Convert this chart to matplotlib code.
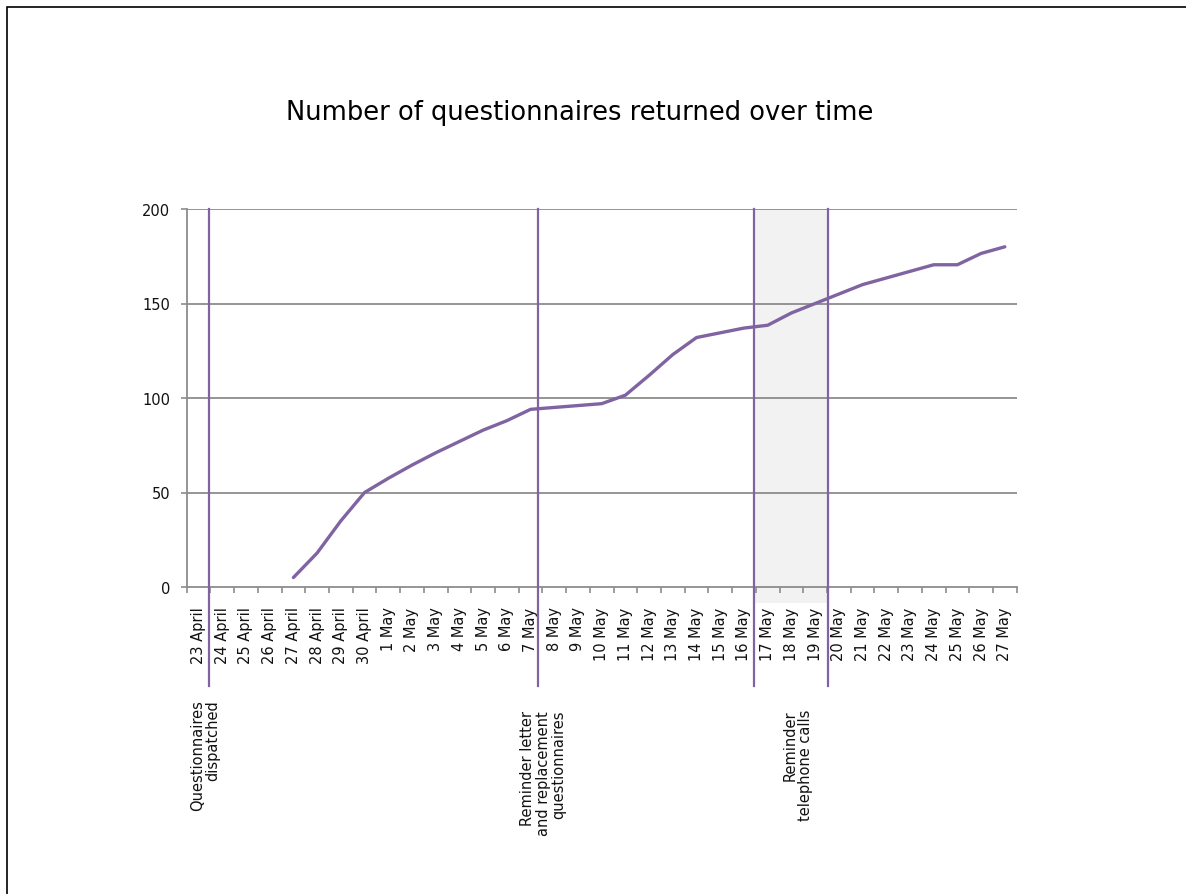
import matplotlib
matplotlib.use("Agg")
import matplotlib.pyplot as plt
from matplotlib.patches import Rectangle
import numpy as np

dates = ["23 April", "24 April", "25 April", "26 April", "27 April", "28 April",
         "29 April", "30 April", "1 May", "2 May", "3 May", "4 May", "5 May",
         "6 May", "7 May", "8 May", "9 May", "10 May", "11 May", "12 May",
         "13 May", "14 May", "15 May", "16 May", "17 May", "18 May", "19 May",
         "20 May", "21 May", "22 May", "23 May", "24 May", "25 May", "26 May",
         "27 May"]
returned = [None, None, None, None, 5, 18, 35, 50, 57.5, 64.5, 71, 77, 83,
            88, 94, 95, 96, 97, 101.5, 112, 123, 132, 134.5, 137, 138.5,
            145, 150, 155, 160, 163.5, 167, 170.5, 170.5, 176.5, 180]
yticks = [0, 50, 100, 150, 200]

events = [("Questionnaires\ndispatched", 0.44, 0.27),
          ("Reminder letter\nand replacement\nquestionnaires", 14.30, 14.53),
          ("Reminder\ntelephone calls", 23.43, 25.28)]
event_end = 26.53

purple = "#8064A2"
grid = "#8c8c8c"

fig = plt.figure(figsize=(11.86, 8.95), dpi=100)
# outer border (only top/left visible)
fig.patches.append(Rectangle((7 / 1186, -0.05), 1.2, 1 - 8 / 895 + 0.05,
                             transform=fig.transFigure, fill=False,
                             edgecolor="black", linewidth=1.2))

ax = fig.add_axes([186.7 / 1186, 1 - 588 / 895, 830 / 1186, 378 / 895])
x = np.arange(len(dates))
y = np.array([np.nan if v is None else v for v in returned], dtype=float)

ax.set_xlim(-0.5, len(dates) - 0.5)
ax.set_ylim(0, 200)

# shaded telephone reminder window
ax.add_patch(Rectangle((events[2][1], -8.5), event_end - events[2][1], 208.5,
                       facecolor="#f2f2f2", edgecolor="none", zorder=0,
                       clip_on=False))

for v in yticks[1:]:
    ax.axhline(v, color=grid, linewidth=1.3, zorder=1)

ax.plot(x, y, color=purple, linewidth=2.4, zorder=3, solid_capstyle="round")

for label, xv, tx in events:
    ax.plot([xv, xv], [200, -52.4], color=purple, linewidth=1.6, zorder=4,
            clip_on=False)
for xv in [event_end]:
    ax.plot([xv, xv], [200, -52.4], color=purple, linewidth=1.6, zorder=4,
            clip_on=False)

tops = [-59.3, -65.0, -64.6]
for (label, xv, tx), ty in zip(events, tops):
    ax.text(tx, ty, label, rotation=90, ha="center", va="top",
            multialignment="right", fontsize=10.5, color="#111111",
            linespacing=1.05, clip_on=False)

for s in ["top", "right"]:
    ax.spines[s].set_visible(False)
for s in ["left", "bottom"]:
    ax.spines[s].set_color(grid)
    ax.spines[s].set_linewidth(1.3)
    ax.spines[s].set_zorder(2)

ax.set_yticks(yticks)
ax.set_yticklabels([str(v) for v in yticks], fontsize=10.5, color="#111111")
ax.tick_params(axis="y", length=4, color=grid, pad=8, width=1.2)

ax.set_xticks(x)
ax.set_xticklabels(dates, rotation=90, fontsize=10.5, va="top", ha="center",
                   color="#111111")
ax.set_xticks(np.arange(-0.5, len(dates)), minor=True)
ax.tick_params(axis="x", which="major", length=0, pad=14)
ax.tick_params(axis="x", which="minor", length=4, color=grid, width=1.2)

fig.text(0.489, 1 - 113 / 895, "Number of questionnaires returned over time",
         ha="center", va="center", fontsize=18.5)

fig.savefig("out.png", dpi=100)
